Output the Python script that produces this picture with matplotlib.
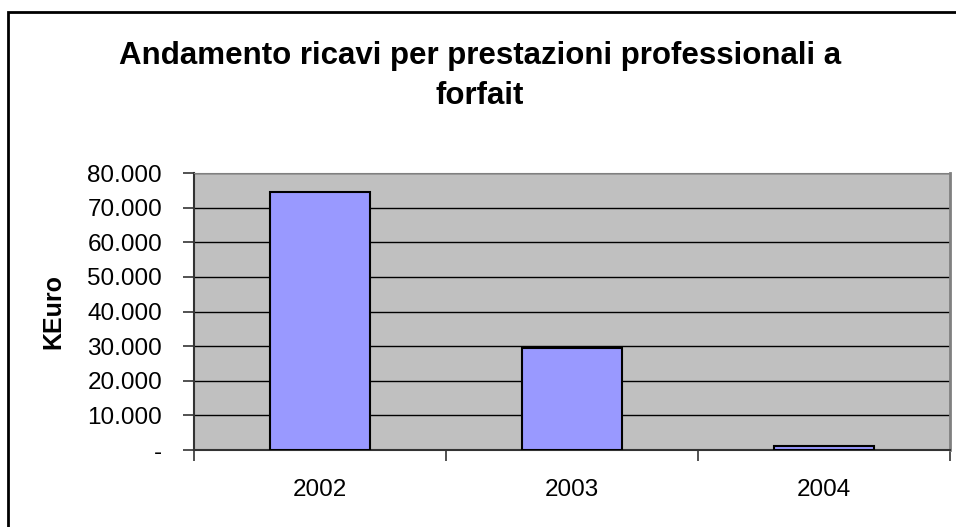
import matplotlib.pyplot as plt
import numpy as np
from matplotlib.patches import Rectangle
from matplotlib.ticker import FuncFormatter, FixedLocator

anni = ['2002', '2003', '2004']
ricavi = [74500, 29600, 1200]
y_ticks = [0, 10000, 20000, 30000, 40000, 50000, 60000, 70000, 80000]

plt.rcParams['font.family'] = ['Liberation Sans', 'DejaVu Sans']

fig = plt.figure(figsize=(9.56, 5.27), dpi=100)
ax = fig.add_axes([194 / 956, 1 - 450 / 527, 756 / 956, 277 / 527])

# cornice esterna del grafico (tagliata a destra e in basso)
fig.patches.append(Rectangle((8 / 956, -0.05), 1.1, 1 - 12 / 527 + 0.05,
                             transform=fig.transFigure, fill=False,
                             edgecolor='black', linewidth=2))

x = np.arange(len(anni))
ax.bar(x, ricavi, width=0.4, color='#9999FF', edgecolor='black',
       linewidth=1.5, zorder=3)

ax.set_facecolor('#C0C0C0')
ax.set_xlim(-0.5, len(anni) - 0.5)
ax.set_ylim(0, 80000)

ax.set_yticks(y_ticks)
ax.yaxis.set_major_formatter(FuncFormatter(
    lambda v, p: '-' if v == 0 else f'{int(v):,}'.replace(',', '.')))
ax.yaxis.grid(True, color='black', linewidth=1, zorder=1)

ax.set_xticks(x)
ax.set_xticklabels(anni)
ax.xaxis.set_minor_locator(FixedLocator(np.arange(-0.5, len(anni), 1)))
ax.tick_params(axis='x', which='major', length=0, pad=21, labelsize=17.5)
ax.tick_params(axis='x', which='minor', length=8, width=1.2, color='#333333')
ax.tick_params(axis='y', length=8, width=1.2, color='#333333', labelsize=17.5,
               pad=15)

for s in ['left', 'bottom']:
    ax.spines[s].set_color('#333333')
    ax.spines[s].set_linewidth(1.5)
ax.spines['top'].set_color('#808080')
ax.spines['right'].set_color('#808080')
ax.spines['right'].set_linewidth(2)

ax.set_ylabel('KEuro', fontsize=18, fontweight='bold', labelpad=15.5)
fig.text(480 / 956, 1 - 76 / 527,
         'Andamento ricavi per prestazioni professionali a\nforfait',
         ha='center', va='center', fontsize=22.5, fontweight='bold',
         linespacing=1.45)

plt.savefig('out.png', dpi=100)
